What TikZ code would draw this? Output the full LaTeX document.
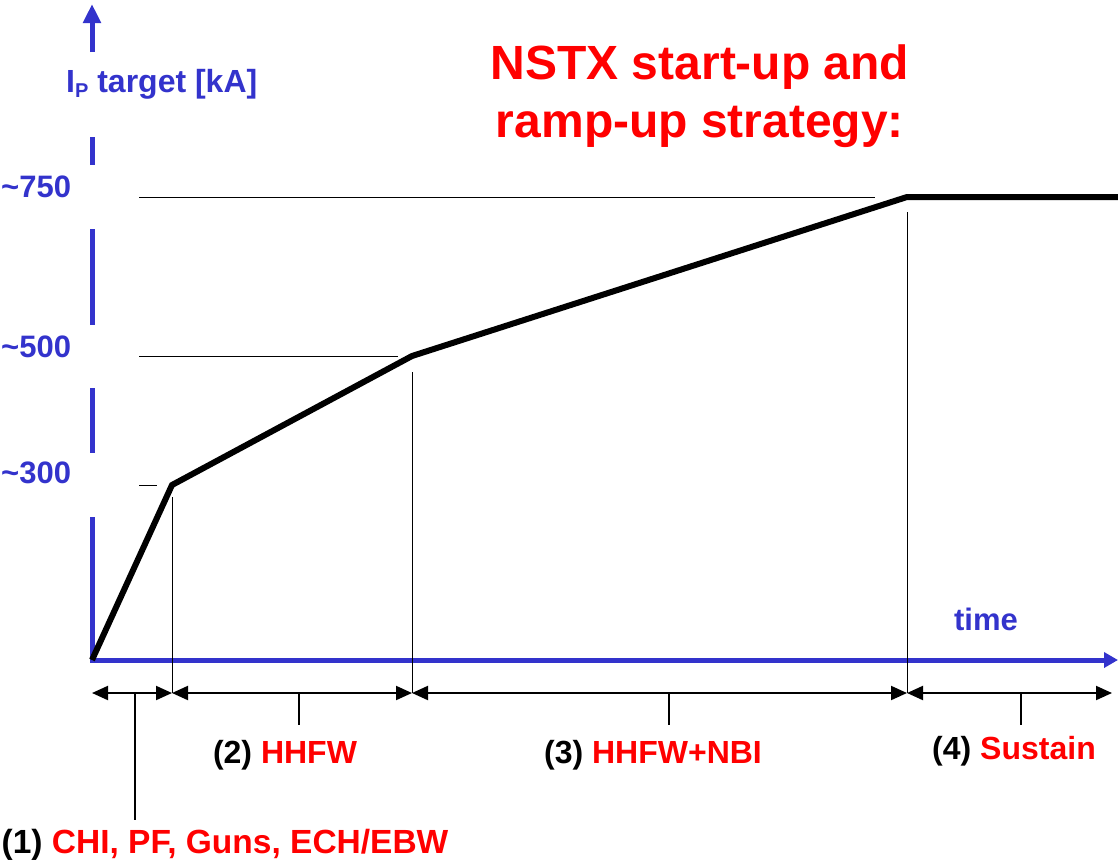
\documentclass[tikz,border=0pt]{standalone}
\usepackage{fontspec}
\setmainfont{Liberation Sans}
\usetikzlibrary{arrows.meta}
\definecolor{axblue}{RGB}{51,51,204}
\definecolor{tred}{RGB}{255,0,0}
\tikzset{
  axisline/.style={draw=axblue, line width=5pt},
  curveline/.style={draw=black, line width=6pt, line join=miter},
  thinline/.style={draw=black, line width=1pt},
  dimline/.style={draw=black, line width=2pt, {Triangle[length=16pt,width=14pt]}-{Triangle[length=16pt,width=14pt]}},
  tickline/.style={draw=black, line width=2pt},
  lab/.style={font=\fontsize{32}{36}\selectfont\bfseries, inner sep=0pt},
  bluelab/.style={lab, text=axblue},
}
\begin{document}
\begin{tikzpicture}[x=1pt,y=-1pt]
\useasboundingbox (0,0) rectangle (1118,865);
% coordinates
\coordinate (O) at (92,660);
\coordinate (A) at (172,485);
\coordinate (B) at (412,356);
\coordinate (C) at (907,197);
\coordinate (D) at (1118,197);
% y axis (broken by labels)
\draw[axisline, -{Triangle[length=19pt,width=17pt]}] (92,52) -- (92,4);
\draw[axisline] (92,137) -- (92,165);
\draw[axisline] (92,229) -- (92,325);
\draw[axisline] (92,388) -- (92,453);
\draw[axisline] (92,517) -- (92,662);
% x axis
\draw[axisline, -{Triangle[length=14pt,width=15pt]}] (90,660) -- (1118,660);
% reference lines
\draw[thinline] (139,197) -- (875,197);
\draw[thinline] (139,356) -- (398,356);
\draw[thinline] (139,485) -- (157,485);
\coordinate (dA) at (172,693);
\coordinate (dB) at (412,693);
\coordinate (dC) at (907,693);
\coordinate (d0) at (92,693);
\coordinate (dE) at (1112,693);
\draw[thinline] (172,497) -- (dA);
\draw[thinline] (412,372) -- (dB);
\draw[thinline] (907,212) -- (dC);
% curve
\draw[curveline] (O) -- (A) -- (B) -- (C) -- (D);
% dimension arrows
\draw[dimline] (d0) -- (dA);
\draw[dimline] (dA) -- (dB);
\draw[dimline] (dB) -- (dC);
\draw[dimline] (dC) -- (dE);
\coordinate (t1) at (135,693);
\coordinate (t2) at (299,693);
\coordinate (t3) at (669,693);
\coordinate (t4) at (1021,693);
\coordinate (e1) at (135,820);
\coordinate (e2) at (299,725);
\coordinate (e3) at (669,725);
\coordinate (e4) at (1021,725);
\draw[tickline] (t1) -- (e1);
\draw[tickline] (t2) -- (e2);
\draw[tickline] (t3) -- (e3);
\draw[tickline] (t4) -- (e4);
% labels
\node[bluelab, anchor=west, font=\fontsize{31}{34}\selectfont\bfseries] (l750) at (1,187) {\char`~750};
\node[bluelab, anchor=west, font=\fontsize{31}{34}\selectfont\bfseries] (l500) at (1,347) {\char`~500};
\node[bluelab, anchor=west, font=\fontsize{31}{34}\selectfont\bfseries] (l300) at (1,473) {\char`~300};
\node[bluelab, anchor=base west] (ylab) at (66,92) {I\raisebox{-0.35ex}{\fontsize{20}{22}\selectfont P} target [kA]};
\node[bluelab, font=\fontsize{31}{34}\selectfont\bfseries] (tlab) at (986,619) {time};
\node[lab, text=tred, align=center, font=\fontsize{48}{58}\selectfont\bfseries] (title) at (700,96) {NSTX start-up and\\ramp-up strategy:};
\node[lab, font=\fontsize{33.5}{36}\selectfont\bfseries] (p1) at (225,845) {(1) \textcolor{tred}{CHI, PF, Guns, ECH/EBW}};
\node[lab] (p2) at (285,755) {(2) \textcolor{tred}{HHFW}};
\node[lab] (p3) at (653,755) {(3) \textcolor{tred}{HHFW+NBI}};
\node[lab] (p4) at (1014,751) {(4) \textcolor{tred}{Sustain}};
\end{tikzpicture}
\end{document}
